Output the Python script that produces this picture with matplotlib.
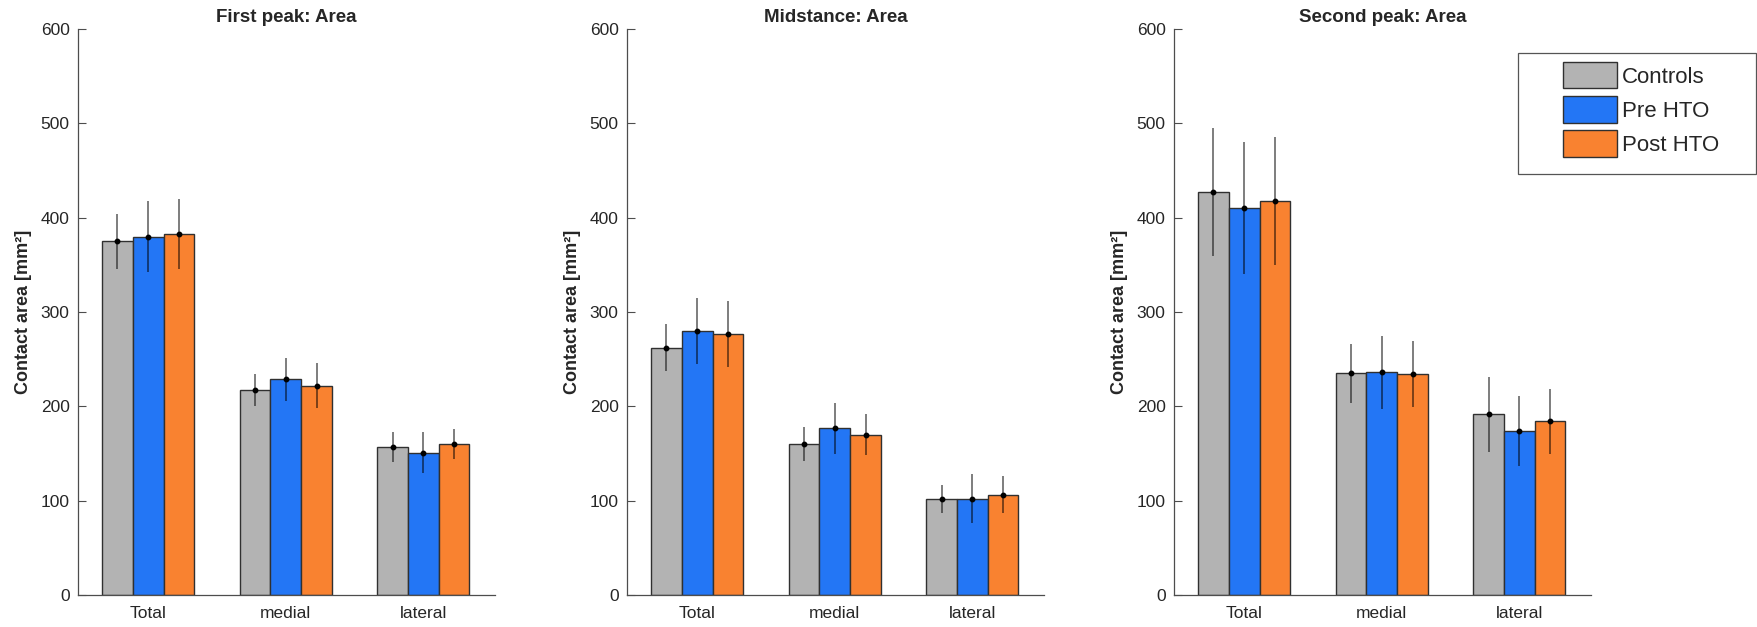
import matplotlib as mpl
mpl.use('Agg')

import numpy as np
import matplotlib.pyplot as plt
from matplotlib.patches import Rectangle

plt.rcParams['font.family'] = ['Liberation Sans', 'DejaVu Sans']

# data (mean and error half-length, mm^2)
regions = ['Total', 'medial', 'lateral']
groups = ['Controls', 'Pre HTO', 'Post HTO']
titles = ['First peak: Area', 'Midstance: Area', 'Second peak: Area']

first_mean = [[375, 217.5, 157], [380, 228.5, 151], [383, 222, 160.5]]
first_err = [[29, 17, 16], [38, 23, 22], [37, 24, 16]]

mid_mean = [[262, 160.5, 101.5], [280, 177, 102], [277, 170, 106.5]]
mid_err = [[25, 18, 15], [35, 27, 26], [35, 22, 20]]

second_mean = [[427.5, 235, 191.5], [410.5, 236, 174], [418, 234, 184]]
second_err = [[68, 31, 40], [70, 39, 37], [68, 35, 34]]

means = [first_mean, mid_mean, second_mean]
errs = [first_err, mid_err, second_err]

colors = ['#b3b3b3', '#2376f5', '#f98230']
AXCOL = '#4d4d4d'
TXTCOL = '#262626'

fig = plt.figure(figsize=(17.58, 6.27), dpi=100)
lefts = [78, 627, 1174]
W, H = 1758.0, 627.0

x = np.arange(1, len(regions) + 1)
bw = 0.223

for k in range(3):
    ax = fig.add_axes([lefts[k] / W, 32 / H, 417 / W, 566 / H])
    for g in range(3):
        pos = x + (g - 1) * bw
        ax.bar(pos, means[k][g], width=bw, color=colors[g], edgecolor='#303030',
               linewidth=1.0, label=groups[g], zorder=2)
        ax.errorbar(pos, means[k][g], yerr=errs[k][g], fmt='none', ecolor='black',
                    elinewidth=1.3, alpha=0.55, capsize=0, zorder=3)
        ax.plot(pos, means[k][g], 'o', color='black', markersize=3.2, zorder=4)

    ax.set_xlim(0.49, 3.52)
    ax.set_ylim(0, 600)
    ax.set_yticks(range(0, 601, 100))
    ax.set_xticks(x)
    ax.set_xticklabels(regions)

    for s in ['top', 'right']:
        ax.spines[s].set_visible(False)
    for s in ['left', 'bottom']:
        ax.spines[s].set_color(AXCOL)
        ax.spines[s].set_linewidth(0.9)

    ax.tick_params(axis='both', direction='in', length=5.5, width=0.8, color=AXCOL,
                   labelcolor=TXTCOL, labelsize=12.5)
    ax.tick_params(axis='y', pad=6)
    ax.tick_params(axis='x', pad=8)

    ax.set_ylabel('Contact area [mm²]', fontsize=13, fontweight='bold', color=TXTCOL, labelpad=6)
    ax.set_title(titles[k], fontsize=13.5, fontweight='bold', color=TXTCOL, pad=5)

    if k == 2:
        handles, labels = ax.get_legend_handles_labels()
        leg = fig.legend(handles, labels,
                         loc='upper left', bbox_to_anchor=(1563 / W, 1 - 62 / H),
                         bbox_transform=fig.transFigure, frameon=False, fontsize=16,
                         borderpad=0, handlelength=2.43, handleheight=1.45,
                         handletextpad=0.22, labelspacing=0.35, borderaxespad=0)
        for t in leg.get_texts():
            t.set_color(TXTCOL)

# legend frame (MATLAB style box with wide left margin)
fig.patches.append(Rectangle((1518 / W, 1 - 174 / H), 238 / W, 121 / H,
                             transform=fig.transFigure, fill=False,
                             edgecolor='#555555', linewidth=0.9))

fig.savefig('out.png', dpi=100)
